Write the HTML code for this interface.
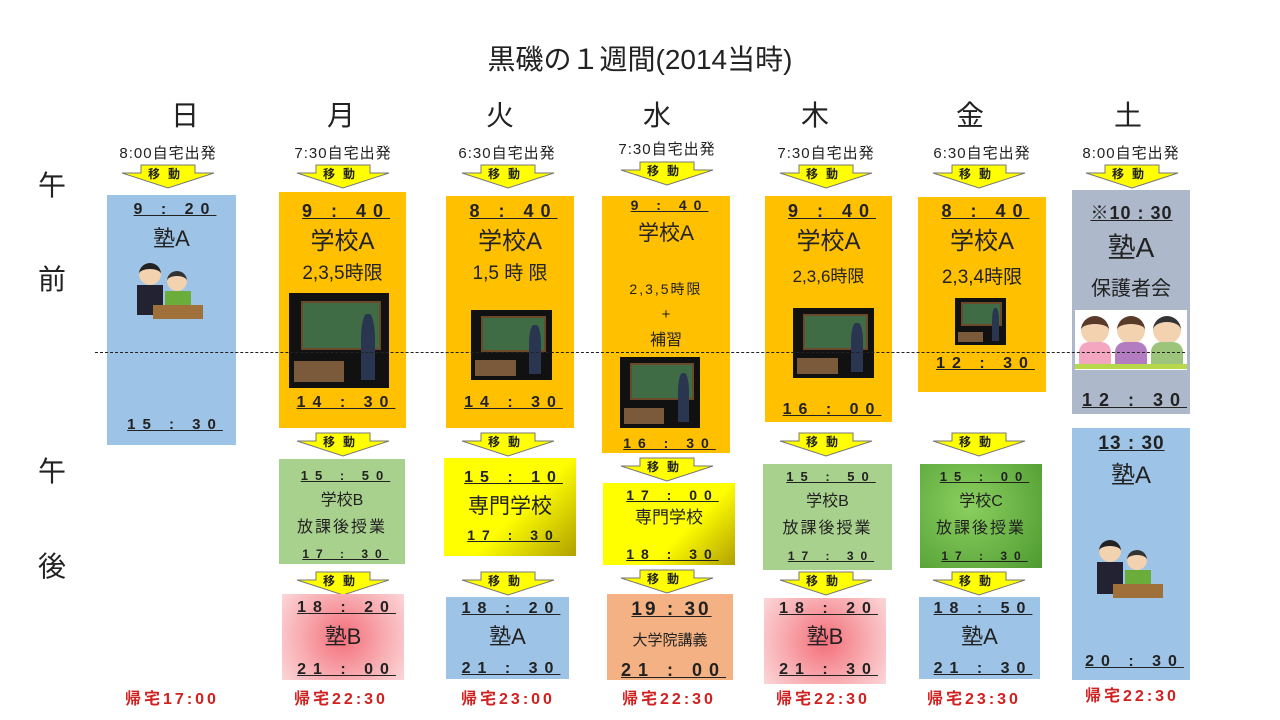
<!DOCTYPE html>
<html><head><meta charset="utf-8">
<style>
*{margin:0;padding:0;box-sizing:border-box}
body{width:1280px;height:720px;background:#fff;position:relative;overflow:hidden;font-family:"Liberation Sans","Noto Sans CJK JP",sans-serif;color:#222}
.a{position:absolute}
.t{position:absolute;left:0;right:0;text-align:center;white-space:nowrap;line-height:1}
.tm{font-weight:bold;text-decoration:underline;letter-spacing:7px;text-indent:7px;font-size:16px}
.day{position:absolute;font-size:28px;width:60px;text-align:center;top:94px}
.dep{position:absolute;font-size:15px;width:140px;text-align:center;top:142px;letter-spacing:1px}
.ret{position:absolute;font-size:16px;font-weight:bold;color:#d02020;width:150px;text-align:center;top:685px;letter-spacing:3px}
.side{position:absolute;left:38px;font-size:28px}
.cls{position:absolute;background:#111}
.cls i{position:absolute;left:12%;top:8%;width:80%;height:52%;background:#3f6b45;border:2px solid #6b4a2a}
.cls b{position:absolute;right:14%;top:22%;width:14%;height:70%;background:#2a3550;border-radius:40% 40% 0 0}
.cls u{position:absolute;left:5%;bottom:6%;width:50%;height:22%;background:#7a5a3a}
</style></head><body>
<div class="a" style="left:0;width:1280px;top:38px;text-align:center;font-size:28px">黒磯の１週間(2014当時)</div>

<div class="day" style="left:155px">日</div><div class="day" style="left:311px">月</div><div class="day" style="left:470px">火</div><div class="day" style="left:627px">水</div><div class="day" style="left:785px">木</div><div class="day" style="left:940px">金</div><div class="day" style="left:1098px">土</div>

<div class="side" style="top:164px">午</div><div class="side" style="top:258px">前</div><div class="side" style="top:450px">午</div><div class="side" style="top:545px">後</div>

<div class="dep" style="left:98px">8:00自宅出発</div>
<div class="dep" style="left:273px">7:30自宅出発</div>
<div class="dep" style="left:437px">6:30自宅出発</div>
<div class="dep" style="left:597px;top:138px">7:30自宅出発</div>
<div class="dep" style="left:756px">7:30自宅出発</div>
<div class="dep" style="left:912px">6:30自宅出発</div>
<div class="dep" style="left:1061px">8:00自宅出発</div>

<svg class="a" style="left:0;top:0" width="1280" height="720">
<defs><g id="ar"><polygon points="-27,0 27,0 27,8 46,8 0,23 -46,8 -27,8" fill="#ffff00" stroke="#777" stroke-width="1"/><text x="0" y="13" font-size="12" font-weight="bold" text-anchor="middle" fill="#222" letter-spacing="8" font-family="Liberation Sans,Noto Sans CJK JP,sans-serif">移動</text></g></defs>
<use href="#ar" x="168" y="165"/><use href="#ar" x="343" y="165"/><use href="#ar" x="508" y="165"/><use href="#ar" x="667" y="162"/><use href="#ar" x="826" y="165"/><use href="#ar" x="979" y="165"/><use href="#ar" x="1132" y="165"/>
<use href="#ar" x="343" y="433"/><use href="#ar" x="508" y="433"/><use href="#ar" x="667" y="458"/><use href="#ar" x="826" y="433"/><use href="#ar" x="979" y="433"/>
<use href="#ar" x="343" y="572"/><use href="#ar" x="508" y="572"/><use href="#ar" x="667" y="570"/><use href="#ar" x="826" y="572"/><use href="#ar" x="979" y="572"/>
</svg>

<!-- Sun -->
<div class="a" style="left:107px;top:195px;width:129px;height:250px;background:#9dc3e6">
<div class="t tm" style="top:7px">9 : 20</div>
<div class="t" style="top:33px;font-size:22px">塾A</div>
<div class="a" style="left:28px;top:68px;width:70px;height:60px"><div class="a" style="left:4px;top:0;width:22px;height:22px;border-radius:50%;background:#f3d2b0;border-top:6px solid #222"></div><div class="a" style="left:2px;top:22px;width:26px;height:30px;background:#223"></div><div class="a" style="left:32px;top:8px;width:20px;height:20px;border-radius:50%;background:#f3d2b0;border-top:5px solid #333"></div><div class="a" style="left:30px;top:28px;width:26px;height:18px;background:#6aad3a"></div><div class="a" style="left:18px;top:42px;width:50px;height:14px;background:#a0703a"></div></div>
<div class="t tm" style="top:222px;font-size:15px">15 : 30</div>
</div>

<!-- Mon -->
<div class="a" style="left:279px;top:192px;width:127px;height:236px;background:#ffc000">
<div class="t tm" style="top:10px;font-size:18px">9 : 40</div>
<div class="t" style="top:38px;font-size:24px">学校A</div>
<div class="t" style="top:72px;font-size:19px">2,3,5時限</div>
<div class="cls" style="left:10px;top:101px;width:100px;height:95px"><i></i><b></b><u></u></div>
<div class="t tm" style="top:203px">14 : 30</div>
</div>
<!-- Tue -->
<div class="a" style="left:446px;top:196px;width:128px;height:232px;background:#ffc000">
<div class="t tm" style="top:6px;font-size:18px">8 : 40</div>
<div class="t" style="top:34px;font-size:24px">学校A</div>
<div class="t" style="top:68px;font-size:19px">1,5 時 限</div>
<div class="cls" style="left:25px;top:114px;width:81px;height:70px"><i></i><b></b><u></u></div>
<div class="t tm" style="top:199px">14 : 30</div>
</div>
<!-- Wed -->
<div class="a" style="left:602px;top:196px;width:128px;height:257px;background:#ffc000">
<div class="t tm" style="top:2px;font-size:14px">9 : 40</div>
<div class="t" style="top:27px;font-size:21px">学校A</div>
<div class="t" style="top:86px;font-size:14px;letter-spacing:2px">2,3,5時限</div>
<div class="t" style="top:111px;font-size:15px">+</div>
<div class="t" style="top:137px;font-size:16px">補習</div>
<div class="cls" style="left:18px;top:161px;width:80px;height:71px"><i></i><b></b><u></u></div>
<div class="t tm" style="top:240px;font-size:14px">16 : 30</div>
</div>
<!-- Thu -->
<div class="a" style="left:765px;top:196px;width:127px;height:226px;background:#ffc000">
<div class="t tm" style="top:6px;font-size:18px">9 : 40</div>
<div class="t" style="top:34px;font-size:24px">学校A</div>
<div class="t" style="top:72px;font-size:17px">2,3,6時限</div>
<div class="cls" style="left:28px;top:112px;width:81px;height:70px"><i></i><b></b><u></u></div>
<div class="t tm" style="top:206px">16 : 00</div>
</div>
<!-- Fri -->
<div class="a" style="left:918px;top:197px;width:128px;height:195px;background:#ffc000">
<div class="t tm" style="top:5px;font-size:18px">8 : 40</div>
<div class="t" style="top:33px;font-size:24px">学校A</div>
<div class="t" style="top:71px;font-size:19px">2,3,4時限</div>
<div class="cls" style="left:37px;top:101px;width:51px;height:47px"><i></i><b></b><u></u></div>
<div class="t tm" style="top:159px">12 : 30</div>
</div>
<!-- Sat -->
<div class="a" style="left:1072px;top:190px;width:118px;height:224px;background:#adb9ca">
<div class="t tm" style="top:14px;font-size:18px;letter-spacing:1px;text-indent:1px">※10 : 30</div>
<div class="t" style="top:44px;font-size:28px">塾A</div>
<div class="t" style="top:89px;font-size:20px">保護者会</div>
<div class="a" style="left:3px;top:120px;width:112px;height:60px;background:#fff">
<div class="a" style="left:6px;top:6px;width:28px;height:28px;border-radius:50%;background:#f3d2b0;border-top:8px solid #5a3a2a"></div><div class="a" style="left:4px;top:32px;width:32px;height:24px;background:#f4a6c0;border-radius:10px 10px 0 0"></div>
<div class="a" style="left:42px;top:6px;width:28px;height:28px;border-radius:50%;background:#f3d2b0;border-top:8px solid #5a3a2a"></div><div class="a" style="left:40px;top:32px;width:32px;height:24px;background:#b47cc0;border-radius:10px 10px 0 0"></div>
<div class="a" style="left:78px;top:6px;width:28px;height:28px;border-radius:50%;background:#f3d2b0;border-top:6px solid #333"></div><div class="a" style="left:76px;top:32px;width:32px;height:24px;background:#9cc47a;border-radius:10px 10px 0 0"></div>
<div class="a" style="left:0;top:54px;width:112px;height:5px;background:#b6d84a"></div></div>
<div class="t tm" style="top:201px;font-size:18px">12 : 30</div>
</div>
<div class="a" style="left:1072px;top:428px;width:118px;height:252px;background:#9dc3e6">
<div class="t tm" style="top:6px;font-size:19px;letter-spacing:1px;text-indent:1px">13 : 30</div>
<div class="t" style="top:36px;font-size:24px">塾A</div>
<div class="a" style="left:23px;top:112px;width:70px;height:62px"><div class="a" style="left:4px;top:0;width:22px;height:22px;border-radius:50%;background:#f3d2b0;border-top:6px solid #222"></div><div class="a" style="left:2px;top:22px;width:26px;height:32px;background:#223"></div><div class="a" style="left:32px;top:10px;width:20px;height:20px;border-radius:50%;background:#f3d2b0;border-top:5px solid #333"></div><div class="a" style="left:30px;top:30px;width:26px;height:18px;background:#6aad3a"></div><div class="a" style="left:18px;top:44px;width:50px;height:14px;background:#a0703a"></div></div>
<div class="t tm" style="top:226px">20 : 30</div>
</div>

<!-- afternoon -->
<div class="a" style="left:279px;top:459px;width:126px;height:105px;background:#a9d18e">
<div class="t tm" style="top:10px;font-size:13px">15 : 50</div>
<div class="t" style="top:34px;font-size:16px">学校B</div>
<div class="t" style="top:61px;font-size:16px;letter-spacing:2px">放課後授業</div>
<div class="t tm" style="top:89px;font-size:12px">17 : 30</div>
</div>
<div class="a" style="left:444px;top:458px;width:132px;height:98px;background:linear-gradient(135deg,#ffff00 55%,#b0a000)">
<div class="t tm" style="top:12px">15 : 10</div>
<div class="t" style="top:38px;font-size:21px">専門学校</div>
<div class="t tm" style="top:70px;font-size:14px">17 : 30</div>
</div>
<div class="a" style="left:603px;top:483px;width:132px;height:82px;background:linear-gradient(135deg,#ffff00 60%,#b0a000)">
<div class="t tm" style="top:5px;font-size:14px">17 : 00</div>
<div class="t" style="top:26px;font-size:17px">専門学校</div>
<div class="t tm" style="top:64px;font-size:14px">18 : 30</div>
</div>
<div class="a" style="left:763px;top:464px;width:129px;height:106px;background:#a9d18e">
<div class="t tm" style="top:6px;font-size:13px">15 : 50</div>
<div class="t" style="top:30px;font-size:16px">学校B</div>
<div class="t" style="top:57px;font-size:16px;letter-spacing:2px">放課後授業</div>
<div class="t tm" style="top:86px;font-size:12px">17 : 30</div>
</div>
<div class="a" style="left:920px;top:464px;width:122px;height:104px;background:radial-gradient(circle at 40% 40%,#8bd060,#4e9a30)">
<div class="t tm" style="top:6px;font-size:13px">15 : 00</div>
<div class="t" style="top:30px;font-size:16px">学校C</div>
<div class="t" style="top:57px;font-size:16px;letter-spacing:2px">放課後授業</div>
<div class="t tm" style="top:86px;font-size:12px">17 : 30</div>
</div>

<!-- evening -->
<div class="a" style="left:282px;top:594px;width:122px;height:86px;background:radial-gradient(circle,#f46e7a 0%,#f8b0b4 60%,#fcd6d8)">
<div class="t tm" style="top:6px">18 : 20</div>
<div class="t" style="top:32px;font-size:22px">塾B</div>
<div class="t tm" style="top:68px">21 : 00</div>
</div>
<div class="a" style="left:446px;top:597px;width:123px;height:82px;background:#9dc3e6">
<div class="t tm" style="top:4px">18 : 20</div>
<div class="t" style="top:29px;font-size:22px">塾A</div>
<div class="t tm" style="top:64px">21 : 30</div>
</div>
<div class="a" style="left:607px;top:594px;width:126px;height:86px;background:#f4b183">
<div class="t tm" style="top:6px;font-size:19px;letter-spacing:3px;text-indent:3px">19 : 30</div>
<div class="t" style="top:39px;font-size:15px">大学院講義</div>
<div class="t tm" style="top:67px;font-size:18px">21 : 00</div>
</div>
<div class="a" style="left:764px;top:598px;width:122px;height:86px;background:radial-gradient(circle,#f46e7a 0%,#f8b0b4 60%,#fcd6d8)">
<div class="t tm" style="top:3px">18 : 20</div>
<div class="t" style="top:28px;font-size:22px">塾B</div>
<div class="t tm" style="top:64px">21 : 30</div>
</div>
<div class="a" style="left:919px;top:597px;width:121px;height:82px;background:#9dc3e6">
<div class="t tm" style="top:4px">18 : 50</div>
<div class="t" style="top:29px;font-size:22px">塾A</div>
<div class="t tm" style="top:64px">21 : 30</div>
</div>

<div class="a" style="left:95px;top:352px;width:1090px;border-top:1px dashed #222"></div>

<div class="ret" style="left:97px">帰宅17:00</div>
<div class="ret" style="left:266px">帰宅22:30</div>
<div class="ret" style="left:433px">帰宅23:00</div>
<div class="ret" style="left:594px">帰宅22:30</div>
<div class="ret" style="left:748px">帰宅22:30</div>
<div class="ret" style="left:899px">帰宅23:30</div>
<div class="ret" style="left:1057px;top:682px">帰宅22:30</div>
</body></html>
